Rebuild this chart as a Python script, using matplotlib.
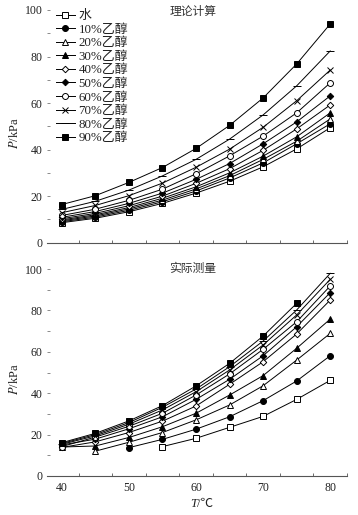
import matplotlib
matplotlib.use('Agg')
import matplotlib.pyplot as plt
from matplotlib.ticker import FixedLocator, NullFormatter

plt.rcParams['font.family'] = ['Liberation Serif', 'Noto Sans CJK SC']
plt.rcParams['mathtext.fontset'] = 'stix'

# ---------------- data ----------------
series_labels = ['水', '10%乙醇', '20%乙醇', '30%乙醇', '40%乙醇',
                 '50%乙醇', '60%乙醇', '70%乙醇', '80%乙醇', '90%乙醇']
x_tick_labels = [40, 50, 60, 70, 80]
y_tick_labels = [0, 20, 40, 60, 80, 100]

# theoretical (top panel), T = 40..80 step 5
theory_T = [40, 45, 50, 55, 60, 65, 70, 75, 80]
theory_water = [8.6, 10.5, 13.3, 16.9, 21.3, 26.4, 32.6, 40.3, 49.4]
theory_e10 = [9.0, 11.0, 13.9, 17.6, 22.2, 27.8, 34.3, 42.5, 51.1]
theory_e20 = [9.4, 11.5, 14.5, 18.3, 23.1, 28.8, 35.8, 43.6, 53.2]
theory_e30 = [9.8, 12.0, 15.1, 19.1, 24.0, 30.0, 37.2, 45.5, 55.8]
theory_e40 = [10.3, 12.6, 15.9, 20.0, 25.5, 31.8, 39.7, 48.9, 59.2]
theory_e50 = [10.9, 13.4, 16.9, 21.3, 27.2, 34.0, 42.5, 51.9, 63.1]
theory_e60 = [11.7, 14.4, 18.2, 23.0, 29.6, 37.3, 45.8, 55.8, 68.7]
theory_e70 = [12.9, 16.0, 20.2, 25.6, 32.4, 40.2, 49.6, 61.0, 74.2]
theory_e80 = [14.3, 17.8, 22.6, 28.7, 35.8, 44.5, 54.9, 67.4, 82.4]
theory_e90 = [16.4, 20.2, 25.9, 32.3, 40.5, 50.4, 62.2, 76.8, 94.0]

# measured (bottom panel)
meas_T_water = [55, 60, 65, 70, 75, 80]
meas_water = [14.2, 18.2, 23.5, 28.8, 37.0, 46.2]
meas_T_e10 = [50, 55, 60, 65, 70, 75, 80]
meas_e10 = [13.7, 17.7, 22.6, 28.6, 36.4, 45.9, 58.1]
meas_T_e20 = [45, 50, 55, 60, 65, 70, 75, 80]
meas_e20 = [12.0, 16.3, 21.0, 27.1, 34.3, 43.6, 56.0, 68.9]
meas_T_full = [40, 45, 50, 55, 60, 65, 70, 75, 80]
meas_e30 = [14.0, 14.5, 18.6, 23.8, 30.3, 39.1, 48.5, 61.7, 75.8]
meas_e40 = [13.8, 16.5, 21.0, 26.5, 33.8, 44.3, 55.2, 68.6, 85.0]
meas_e50 = [15.0, 17.8, 22.8, 28.6, 37.0, 46.7, 58.1, 72.1, 88.6]
meas_e60 = [14.2, 18.8, 24.0, 30.3, 39.1, 49.3, 61.2, 74.5, 91.8]
meas_e70 = [15.3, 19.4, 25.0, 31.9, 40.7, 51.2, 63.3, 77.8, 95.0]
meas_e80 = [15.7, 20.0, 25.8, 33.2, 42.0, 52.8, 65.2, 80.2, 97.9]
meas_T_e90 = [40, 45, 50, 55, 60, 65, 70, 75]
meas_e90 = [16.1, 20.6, 26.6, 34.0, 43.5, 54.4, 67.6, 83.4]

theory_sets = [theory_water, theory_e10, theory_e20, theory_e30, theory_e40,
               theory_e50, theory_e60, theory_e70, theory_e80, theory_e90]
meas_sets = [(meas_T_water, meas_water), (meas_T_e10, meas_e10),
             (meas_T_e20, meas_e20), (meas_T_full, meas_e30),
             (meas_T_full, meas_e40), (meas_T_full, meas_e50),
             (meas_T_full, meas_e60), (meas_T_full, meas_e70),
             (meas_T_full, meas_e80), (meas_T_e90, meas_e90)]

# ---------------- styles ----------------
styles = [
    dict(marker='s', mfc='white', ms=4.3),
    dict(marker='o', mfc='black', ms=4.3),
    dict(marker='^', mfc='white', ms=4.6),
    dict(marker='^', mfc='black', ms=4.6),
    dict(marker='D', mfc='white', ms=3.3),
    dict(marker='D', mfc='black', ms=3.3),
    dict(marker='o', mfc='white', ms=4.3),
    dict(marker='x', mfc='black', ms=4.6),
    dict(marker='_', mfc='black', ms=6.0),
    dict(marker='s', mfc='black', ms=4.5),
]

W, H = 358, 515
fig = plt.figure(figsize=(W / 100, H / 100), dpi=100)
ax1 = fig.add_axes([47 / W, 1 - 242.7 / H, 300 / W, 232.7 / H])
ax2 = fig.add_axes([47 / W, 1 - 476 / H, 300 / W, 207 / H])

text_col = '#222222'
fs = 8.5

for ax in (ax1, ax2):
    ax.set_xlim(37.8, 82.5)
    ax.set_ylim(0, 100)
    for s in ('left', 'right', 'top'):
        ax.spines[s].set_visible(False)
    ax.spines['bottom'].set_color('#555555')
    ax.spines['bottom'].set_linewidth(0.8)
    ax.xaxis.set_major_locator(FixedLocator(x_tick_labels))
    ax.xaxis.set_minor_locator(FixedLocator([42.5 + 5 * i for i in range(9)]))
    ax.yaxis.set_major_locator(FixedLocator(y_tick_labels))
    ax.yaxis.set_minor_locator(FixedLocator([10, 30, 50, 70, 90]))
    ax.tick_params(axis='x', which='major', length=0, pad=4, labelsize=fs,
                   labelcolor=text_col)
    ax.tick_params(axis='x', which='minor', direction='in', length=2.5,
                   width=0.6, color='#555555')
    ax.tick_params(axis='y', which='both', direction='in', length=2.2,
                   width=0.6, color='#777777', pad=3, labelsize=fs,
                   labelcolor=text_col)
    ax.patch.set_visible(False)

ax1.xaxis.set_major_formatter(NullFormatter())

for vals, lab, st in zip(theory_sets, series_labels, styles):
    ax1.plot(theory_T, vals, color='black', lw=0.7, mec='black', mew=0.7,
             label=lab, **st)

for (tt, vals), st in zip(meas_sets, styles):
    ax2.plot(tt, vals, color='black', lw=0.7, mec='black', mew=0.7, **st)

leg = ax1.legend(loc='upper left', bbox_to_anchor=(0.03, 1.0), frameon=False,
                 fontsize=9.3, numpoints=1, handlelength=1.45, handletextpad=0.3,
                 labelspacing=0.12, borderpad=0, borderaxespad=0)
for t in leg.get_texts():
    t.set_color(text_col)

ax1.text(0.487, 0.99, '理论计算', transform=ax1.transAxes, ha='center',
         va='center', fontsize=fs, color='#333333')
ax2.text(0.487, 1.0, '实际测量', transform=ax2.transAxes, ha='center',
         va='center', fontsize=fs, color='#333333')

# y labels: italic P + /kPa
for ax in (ax1, ax2):
    ax.text(-0.11, 0.47, '$P$/kPa', transform=ax.transAxes, rotation=90,
            ha='center', va='center', fontsize=9, color=text_col)

# x label: italic T + /℃
ax2.text(0.5, -0.135, 'T', transform=ax2.transAxes, ha='right', va='center',
         fontsize=9, fontstyle='italic', color=text_col)
ax2.text(0.5, -0.135, '/℃', transform=ax2.transAxes, ha='left', va='center',
         fontsize=9, color=text_col)

fig.savefig('out.png', dpi=100)
